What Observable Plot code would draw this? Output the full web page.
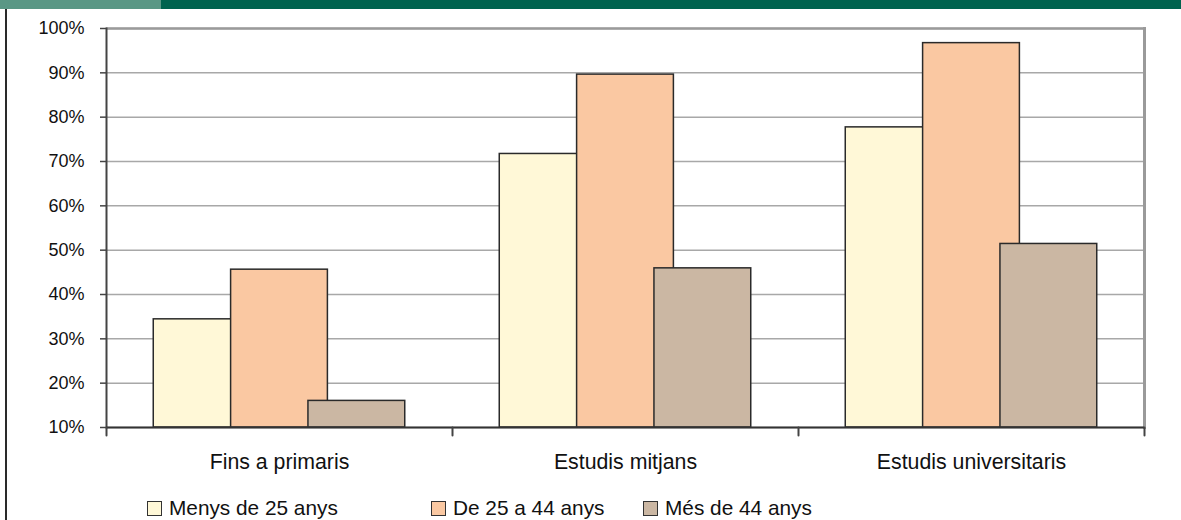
<!DOCTYPE html>
<html>
<head>
<meta charset="utf-8">
<script src="https://cdn.jsdelivr.net/npm/d3@7"></script>
<script src="https://cdn.jsdelivr.net/npm/@observablehq/plot@0.6"></script>
<style>
  html, body { margin: 0; padding: 0; background: #fff; }
  body { width: 1181px; height: 520px; position: relative; overflow: hidden; font-family: "Liberation Sans", Arial, sans-serif; }
  #topbar { position: absolute; left: 0; top: 0; width: 1181px; height: 9px; background: #00634e; }
  #topbar .light { position: absolute; left: 0; top: 0; width: 161px; height: 9px; background: #5a9785; }
  #vline { position: absolute; left: 5px; top: 9px; width: 2px; height: 511px; background: #2a2a2a; }
  #chart { position: absolute; left: 0; top: 10px; }
  .leg { position: absolute; top: 496px; display: flex; align-items: center; font-size: 20.8px; color: #111; white-space: nowrap; }
  .leg .sw { width: 13px; height: 13px; border: 1.5px solid #333; margin-right: 7px; }
</style>
</head>
<body>
<div id="topbar"><div class="light"></div></div>
<div id="vline"></div>
<div id="chart"></div>
<div id="legend"></div>
<script>
const categories = ["Fins a primaris", "Estudis mitjans", "Estudis universitaris"];
const seriesNames = ["Menys de 25 anys", "De 25 a 44 anys", "Més de 44 anys"];
const seriesColors = ["#fff8d7", "#fac8a2", "#cbb7a3"];
const menys25 = [34.4, 71.7, 77.7];
const de25a44 = [45.6, 89.6, 96.7];
const mes44 = [16.0, 45.9, 51.4];
const yTicks = [10, 20, 30, 40, 50, 60, 70, 80, 90, 100];
const legendLeft = [147, 431, 643];

const seriesValues = [menys25, de25a44, mes44];
const data = [];
seriesNames.forEach((s, si) => {
  categories.forEach((c, ci) => {
    data.push({cat: c, series: s, value: seriesValues[si][ci]});
  });
});

const yMin = yTicks[0], yMax = yTicks[yTicks.length - 1];

// straight downward tick shape for the category-boundary marks
const tickShape = {draw(context, l) { context.moveTo(0, 0); context.lineTo(0, -l); }};

const chart = Plot.plot({
  width: 1181,
  height: 478,
  marginTop: 18,
  marginBottom: 61,
  marginLeft: 105,
  marginRight: 36,
  style: {fontFamily: "Liberation Sans, Arial, sans-serif", color: "#111", background: "transparent"},
  fx: {domain: categories, padding: 0, label: null},
  x: {domain: seriesNames, axis: null, paddingInner: -0.2516, paddingOuter: 0.611, round: false},
  y: {domain: [yMin, yMax], axis: null, label: null},
  color: {domain: seriesNames, range: seriesColors},
  marks: [
    Plot.gridY(yTicks, {stroke: "#a8a8a8", strokeOpacity: 1, strokeWidth: 1.5}),
    Plot.ruleY([yMax], {stroke: "#9a9a9a", strokeWidth: 2.5}),
    Plot.frame({anchor: "right", stroke: "#9a9a9a", strokeWidth: 3, facetAnchor: "right"}),
    Plot.barY(data, {fx: "cat", x: "series", y1: yMin, y2: "value", fill: "series", stroke: "#2a2a2a", strokeWidth: 1.5}),
    Plot.frame({anchor: "left", stroke: "#444", strokeWidth: 2, facetAnchor: "left"}),
    Plot.ruleY([yMin], {stroke: "#333", strokeWidth: 2}),
    Plot.vector([0], {frameAnchor: "bottom-left", length: 8, rotate: 180, anchor: "start", shape: tickShape, stroke: "#444", strokeWidth: 2}),
    Plot.vector([0], {frameAnchor: "bottom-right", length: 8, rotate: 180, anchor: "start", shape: tickShape, stroke: "#444", strokeWidth: 2, facetAnchor: "right"}),
    Plot.axisY(yTicks, {tickSize: 6, tickPadding: 16, tickFormat: d => d + "%", fontSize: 18, label: null, stroke: "#444", strokeWidth: 1.5, fill: "#111"}),
    Plot.axisFx({anchor: "bottom", tickSize: 0, tickPadding: 26, fontSize: 21.3, label: null, fill: "#111"})
  ]
});
document.getElementById("chart").appendChild(chart);

const leg = document.getElementById("legend");
seriesNames.forEach((s, i) => {
  const item = document.createElement("div");
  item.className = "leg";
  item.style.left = legendLeft[i] + "px";
  const sw = document.createElement("div");
  sw.className = "sw";
  sw.style.background = seriesColors[i];
  const t = document.createElement("span");
  t.textContent = s;
  item.appendChild(sw);
  item.appendChild(t);
  leg.appendChild(item);
});
</script>
</body>
</html>
